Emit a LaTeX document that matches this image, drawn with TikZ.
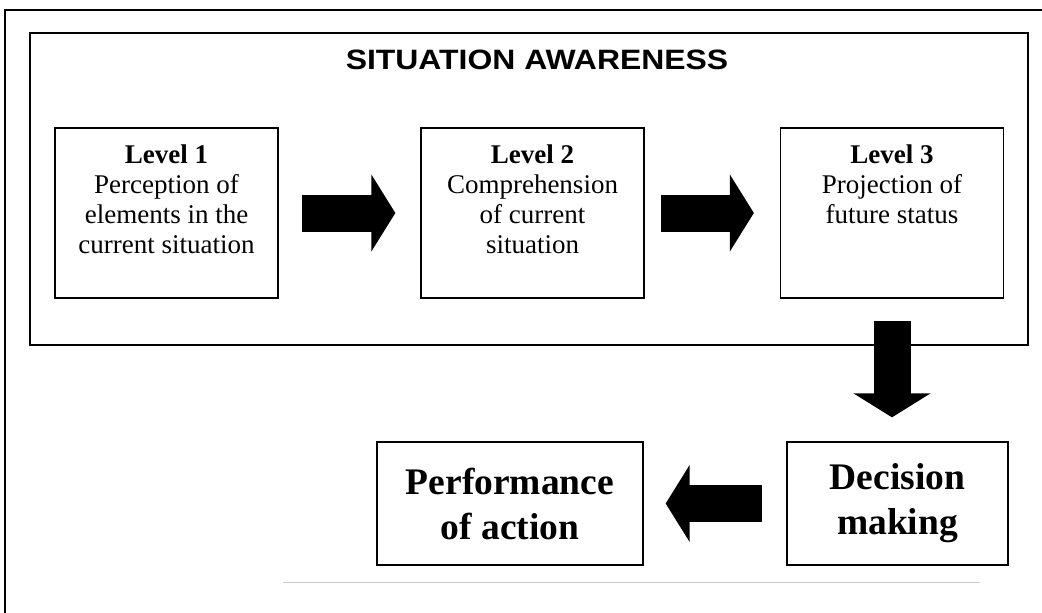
\documentclass[tikz,border=0pt]{standalone}
\usepackage{fontspec}
\setmainfont{Liberation Serif}
\newfontfamily\titlefont[FakeStretch=1.14]{Liberation Sans}
\usetikzlibrary{arrows.meta,positioning}

\begin{document}
\begin{tikzpicture}[x=1pt,y=-1pt,
  box/.style={draw,line width=1.3pt,inner sep=0pt},
  level/.style={box,minimum width=223pt,minimum height=170pt},
  leveltext/.style={inner sep=0pt,align=center,font=\fontsize{27}{30}\selectfont},
  result/.style={box,minimum height=123pt,align=center,font=\fontsize{37.5}{45}\selectfont\bfseries},
  blockarrow/.style={line width=37pt,-{Triangle[length=24pt,width=76pt]}}]

\useasboundingbox (0,0) rectangle (1042,613);

% outer frame (open on the right, faint at the bottom)
\draw[line width=1.5pt] (5,613) -- (5,10) -- (1042,10);
\draw[black!20,line width=1pt] (283,582) -- (980,582);

\node[box,minimum width=998pt,minimum height=312pt] (SA) at (529,189) {};
\node[font=\titlefont\fontsize{28}{34}\selectfont\bfseries] (title) at (537,60) {SITUATION AWARENESS};

\node[level] (1) at (166.5,213) {};
\node[level] (2) at (532.5,213) {};
\node[level] (3) at (892,213) {};
\node[leveltext,below=17pt of 1.north] (t1) {\textbf{Level 1}\\Perception of\\elements in the\\current situation};
\node[leveltext,below=17pt of 2.north] (t2) {\textbf{Level 2}\\Comprehension\\of current\\situation};
\node[leveltext,below=17pt of 3.north] (t3) {\textbf{Level 3}\\Projection of\\future status};

\node[result,minimum width=221pt] (D) at (897.5,503.5) {Decision\\making};
\node[result,minimum width=266pt] (P) at (510,503.5) {Performance\\of action};

\draw[blockarrow,shorten <=23pt,shorten >=25pt] (1.east) -- (2.west);
\draw[blockarrow,shorten <=16pt,shorten >=26pt] (2.east) -- (3.west);
\draw[blockarrow,shorten <=22pt,shorten >=24pt] (3.south) -- (3.south |- D.north);
\draw[blockarrow,shorten <=24pt,shorten >=22pt] (D.west) -- (P.east);

\end{tikzpicture}
\end{document}
